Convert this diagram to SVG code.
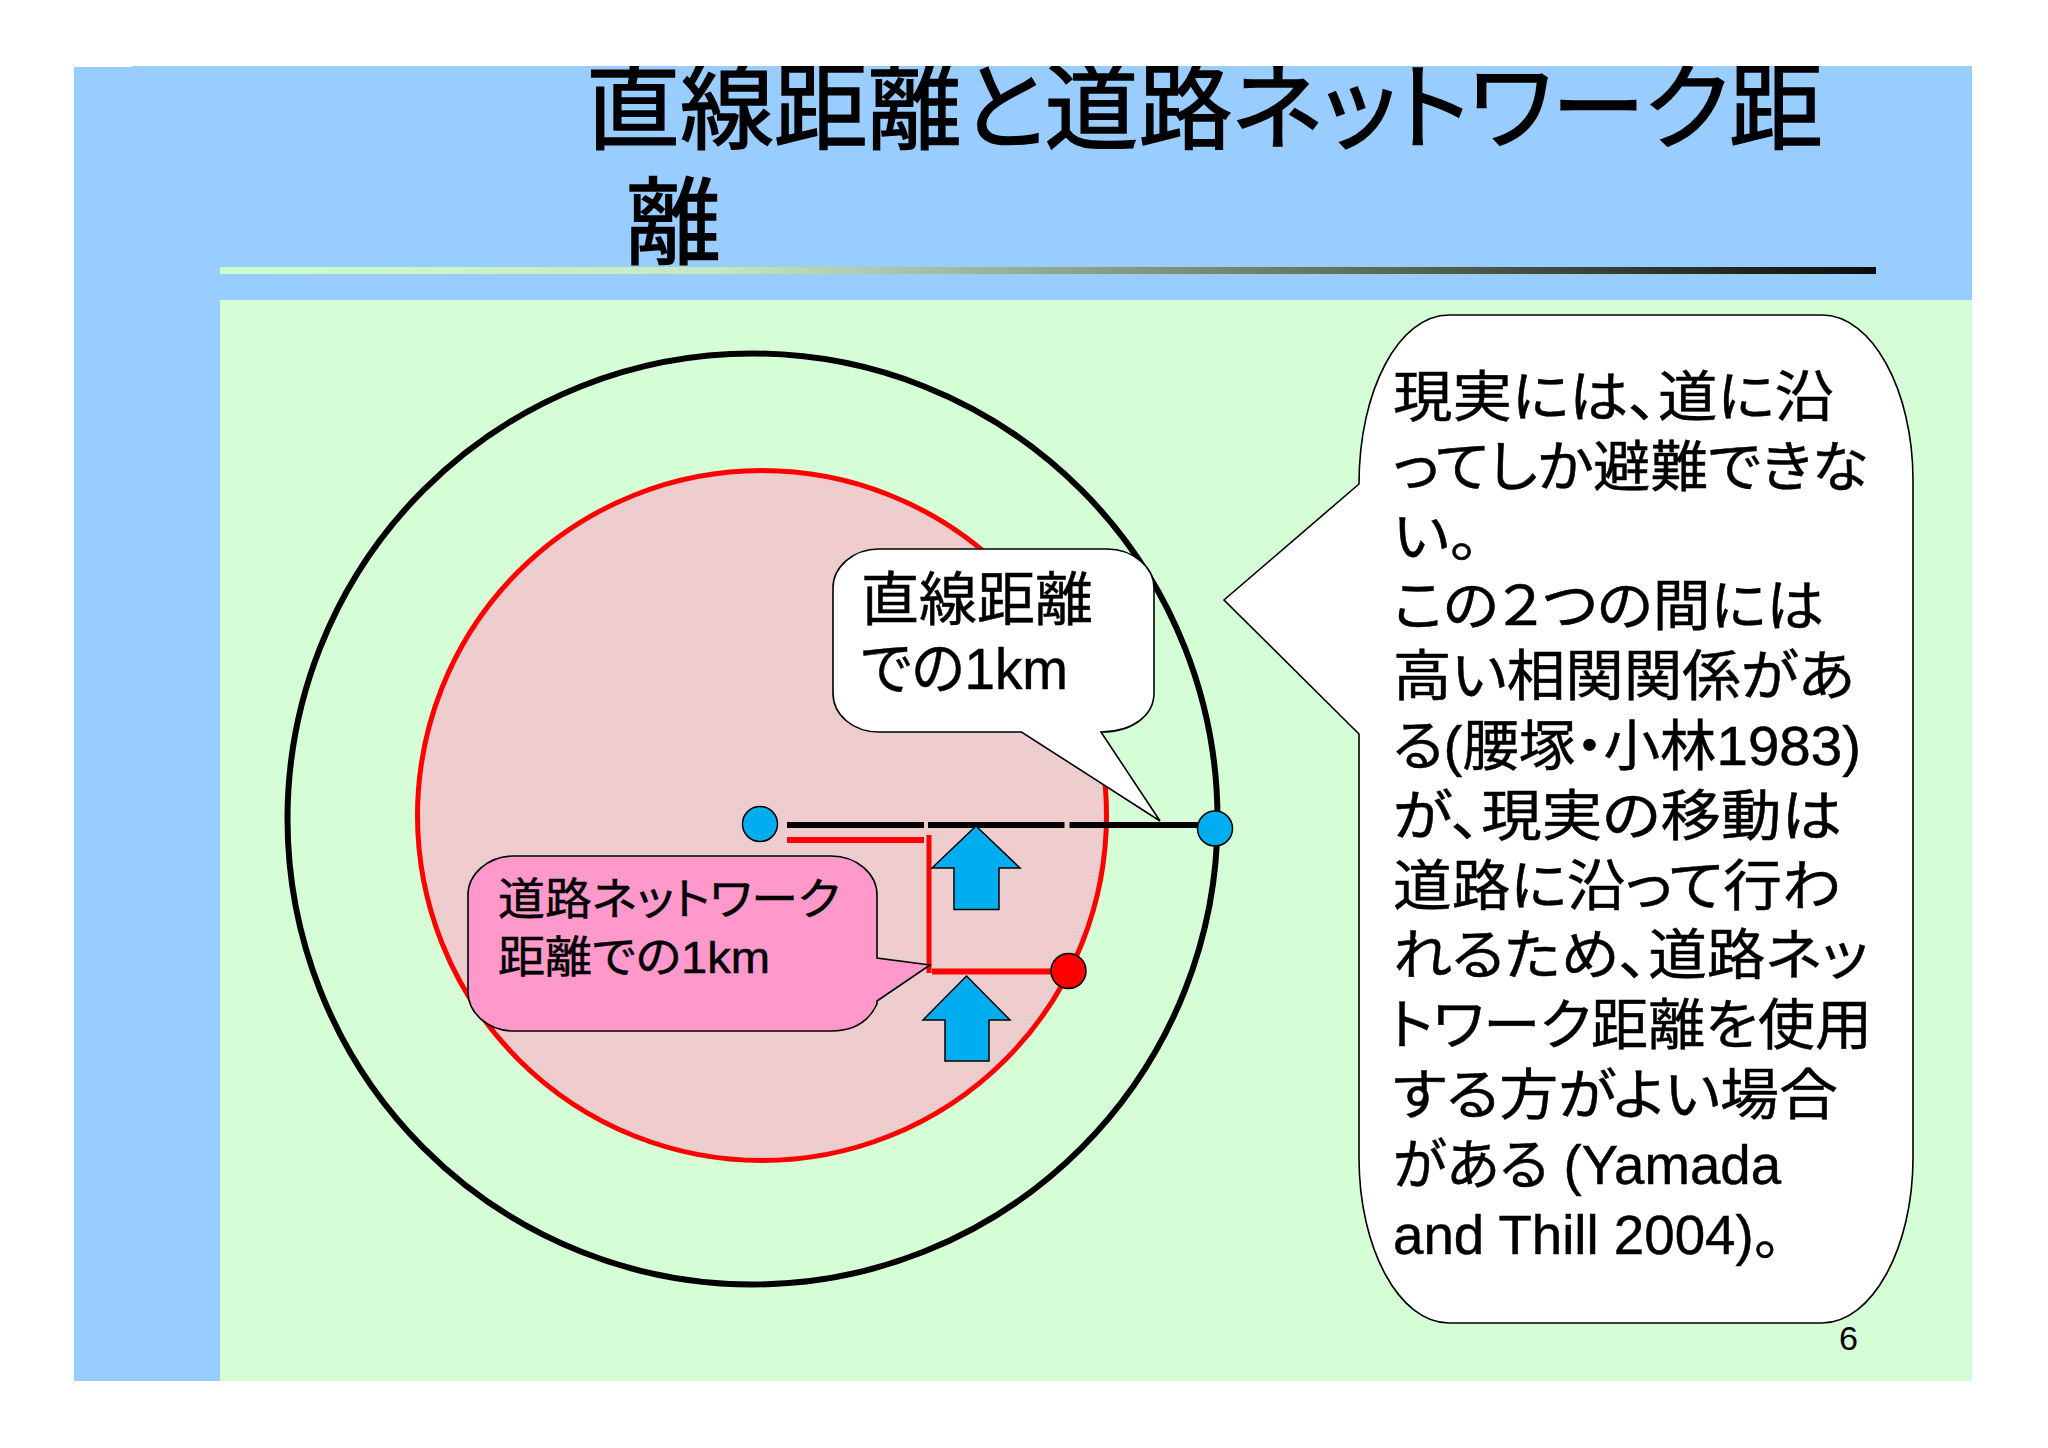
<svg xmlns="http://www.w3.org/2000/svg" width="2048" height="1448" viewBox="0 0 2048 1448">
<style>
text{font-family:"Liberation Sans","Noto Sans CJK JP",sans-serif;fill:#000;font-feature-settings:"palt"}
.jp{font-size:55px;stroke:#000;stroke-width:.5px}
.lab{font-size:58px;stroke:#000;stroke-width:.5px}
.pink{font-size:44px;stroke:#000;stroke-width:.5px}
.ttl{font-size:95px;stroke:#000;stroke-width:1.5px}
.call{stroke:#000;stroke-width:1.6;stroke-linejoin:miter}
.dot{stroke:#000;stroke-width:1.5}
.arr{fill:#00AEEF;stroke:#000;stroke-width:1.5}
.blk{stroke:#000;stroke-width:6;fill:none}
.red{stroke:#F00;stroke-width:6;fill:none}
</style>
<defs>
<linearGradient id="rule" x1="0" x2="1" y1="0" y2="0"><stop offset="0" stop-color="#CCFFCC"/><stop offset="0.3" stop-color="#C4E8C0"/><stop offset="1" stop-color="#0C0C0C"/></linearGradient>
<pattern id="stripes" width="8" height="4" patternUnits="userSpaceOnUse"><rect width="8" height="4" fill="#F4C8CE"/><rect y="2" width="8" height="1" fill="#D6DCC8"/></pattern>
<clipPath id="slideClip"><rect x="74" y="66" width="1898" height="1315"/></clipPath>
</defs>
<rect width="2048" height="1448" fill="#fff"/>
<g id="background">
<rect x="74" y="67" width="1898" height="1314" fill="#99CCFF"/>
<rect x="132" y="66" width="1840" height="2" fill="#99CCFF"/>
<rect x="220" y="300" width="1752" height="1081" fill="#D6FED6"/>
<rect x="220" y="267" width="1656" height="7" fill="url(#rule)"/>
</g>
<g id="title" clip-path="url(#slideClip)">
<text class="ttl" x="586" y="142" textLength="1237" lengthAdjust="spacingAndGlyphs">直線距離と道路ネットワーク距</text>
<text class="ttl" x="626" y="257">離</text>
</g>
<g id="outer-circle"><ellipse cx="752.5" cy="819" rx="465" ry="465.5" fill="none" stroke="#000" stroke-width="6"/></g>
<g id="red-circle"><ellipse cx="762" cy="815.5" rx="344.5" ry="345" fill="url(#stripes)" stroke="#F00" stroke-width="5"/></g>
<g id="connectors">
<path class="blk" d="M787 825H924M928 825H1064.5M1069.5 825H1200"/>
<path class="red" d="M787 840H924"/>
<path class="red" d="M929 835V973" style="stroke-width:5"/>
<path class="red" d="M932 971.5H1052"/>
</g>
<g id="dot-start"><ellipse class="dot" cx="760" cy="824" rx="17.5" ry="17.5" fill="#00AEEF"/></g>
<g id="dot-end"><ellipse class="dot" cx="1215" cy="828.5" rx="17.5" ry="17.5" fill="#00AEEF"/></g>
<g id="dot-red"><ellipse class="dot" cx="1068.5" cy="971" rx="17.5" ry="17.5" fill="#F00"/></g>
<g id="arrow-1"><path class="arr" d="M976 826L1020 868H999V909.5H954V868H932Z"/></g>
<g id="arrow-2"><path class="arr" d="M966.5 976L1010 1020H989V1061H945V1020H923Z"/></g>
<g id="callout-line">
<path class="call" fill="#fff" d="M879 549H1107C1133 549 1154 567 1154 588V693C1154 715 1133 732 1101 732L1160 821L1021.5 732H879C853 732 833 715 833 693V588C833 567 853 549 879 549Z"/>
<text class="lab" x="861" y="620" textLength="232" lengthAdjust="spacingAndGlyphs">直線距離</text>
<text class="lab" x="861" y="689" textLength="207" lengthAdjust="spacingAndGlyphs">での1km</text>
</g>
<g id="callout-road">
<path class="call" fill="#FF99CC" d="M514 856H831C857 856 877 874 877 895V958L930 965L877 1001V1004C870 1019 857 1031 831 1031H514C488 1031 468 1013 468 992V895C468 874 488 856 514 856Z"/>
<text class="pink" x="498" y="915" textLength="342" lengthAdjust="spacingAndGlyphs">道路ネットワーク</text>
<text class="pink" x="498" y="973" textLength="272" lengthAdjust="spacingAndGlyphs">距離での1km</text>
</g>
<g id="callout-main">
<path class="call" fill="#fff" d="M1449 315H1822C1872 315 1913 390 1913 480V1158C1913 1248 1872 1323 1822 1323H1449C1399 1323 1359 1248 1359 1158V734L1224 600L1359 484C1359 390 1399 315 1449 315Z"/>
<text class="jp" x="1393" y="416" textLength="441" lengthAdjust="spacingAndGlyphs">現実には、道に沿</text>
<text class="jp" x="1393" y="486" textLength="475" lengthAdjust="spacingAndGlyphs">ってしか避難できな</text>
<text class="jp" x="1393" y="556" textLength="86" lengthAdjust="spacingAndGlyphs">い。</text>
<text class="jp" x="1393" y="625" textLength="431" lengthAdjust="spacingAndGlyphs">この２つの間には</text>
<text class="jp" x="1393" y="695" textLength="462" lengthAdjust="spacingAndGlyphs">高い相関関係があ</text>
<text class="jp" x="1393" y="765" textLength="468" lengthAdjust="spacingAndGlyphs">る(腰塚・小林1983)</text>
<text class="jp" x="1393" y="835" textLength="449" lengthAdjust="spacingAndGlyphs">が、現実の移動は</text>
<text class="jp" x="1393" y="905" textLength="448" lengthAdjust="spacingAndGlyphs">道路に沿って行わ</text>
<text class="jp" x="1393" y="974" textLength="475" lengthAdjust="spacingAndGlyphs">れるため、道路ネッ</text>
<text class="jp" x="1389" y="1044" textLength="483" lengthAdjust="spacingAndGlyphs">トワーク距離を使用</text>
<text class="jp" x="1393" y="1114" textLength="445" lengthAdjust="spacingAndGlyphs">する方がよい場合</text>
<text class="jp" x="1393" y="1184" textLength="388" lengthAdjust="spacingAndGlyphs">がある (Yamada</text>
<text class="jp" x="1393" y="1254" textLength="388" lengthAdjust="spacingAndGlyphs">and Thill 2004)。</text>
</g>
<g id="page-number"><text x="1839" y="1350" font-size="34" textLength="19" lengthAdjust="spacingAndGlyphs">6</text></g>
</svg>
